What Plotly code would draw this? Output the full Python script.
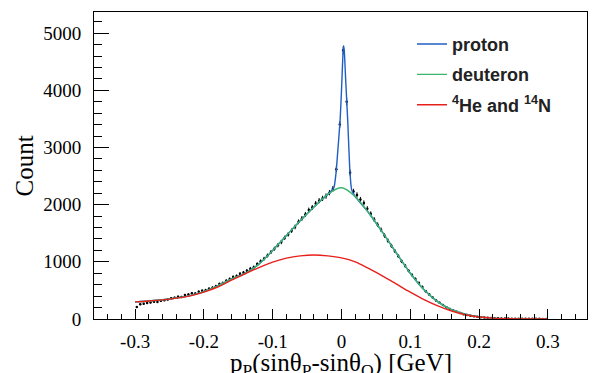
import numpy as np
import plotly.graph_objects as go

# ---------------- data ----------------
bin_width = 0.005
hist_lo = -0.3
counts = [
    212, 258, 268, 281, 290, 302, 297, 318, 330, 342,
    361, 372, 390, 385, 418, 430, 452, 446, 478, 495,
    505, 530, 548, 575, 612, 628, 670, 700, 735, 750,
    790, 812, 845, 880, 905, 960, 1010, 1055, 1110, 1170,
    1230, 1290, 1345, 1420, 1480, 1545, 1610, 1700, 1760, 1830,
    1905, 1950, 2020, 2070, 2110, 2150, 2210, 2280, 2620, 3400,
    4700, 3800, 2560, 2230, 2170, 2090, 2030, 1930, 1840, 1740,
    1650, 1560, 1460, 1370, 1280, 1190, 1100, 1010, 930, 845,
    770, 700, 630, 560, 485, 430, 375, 325, 285, 245,
    205, 175, 150, 125, 105, 85, 70, 58, 48, 38,
    30, 25, 20, 16, 14, 11, 9, 8, 7, 6,
    6, 5, 5, 4, 4, 3, 3, 3, 2, 2,
]
bin_centers = hist_lo + bin_width * (np.arange(len(counts)) + 0.5)
count_err = np.sqrt(np.array(counts, dtype=float))

curve_x = [-0.30, -0.28, -0.26, -0.24, -0.22, -0.20, -0.18, -0.16, -0.14, -0.12,
           -0.10, -0.08, -0.06, -0.04, -0.02, 0.00, 0.02, 0.04, 0.06, 0.08,
           0.10, 0.12, 0.14, 0.16, 0.18, 0.20, 0.22, 0.24, 0.26, 0.28, 0.30]
he_n_y = [300, 315, 335, 365, 405, 470, 560, 680, 790, 900,
          995, 1065, 1105, 1120, 1105, 1070, 1000, 880, 750, 610,
          470, 340, 230, 140, 75, 35, 15, 6, 2, 1, 0]
deuteron_y = [300, 315, 336, 368, 410, 480, 580, 700, 800, 960,
              1200, 1460, 1720, 1960, 2180, 2295, 2140, 1850, 1510, 1150,
              800, 510, 300, 165, 85, 38, 16, 6, 2, 1, 0]
peak_x = [-0.015, -0.011, -0.008, -0.005, -0.002, 0.000, 0.002, 0.003,
          0.004, 0.006, 0.009, 0.0124, 0.0148]
peak_y = [2240, 2300, 2550, 3000, 3480, 4000, 4600, 4780,
          4700, 4200, 3480, 2550, 2260]

# proton (total) curve: deuteron curve outside the peak + peak points
outside = [(x, y) for x, y in zip(curve_x, deuteron_y) if abs(x) > 0.019]
proton_pts = sorted(outside + list(zip(peak_x, peak_y)))
proton_x = [p[0] for p in proton_pts]
proton_y = [p[1] for p in proton_pts]

x_ticks = [-0.3, -0.2, -0.1, 0, 0.1, 0.2, 0.3]
x_labels = ["-0.3", "-0.2", "-0.1", "0", "0.1", "0.2", "0.3"]
y_ticks = [0, 1000, 2000, 3000, 4000, 5000]
y_labels = ["0", "1000", "2000", "3000", "4000", "5000"]

names = ["<b>proton</b>", "<b>deuteron</b>", "<b><sup>4</sup>He and <sup>14</sup>N</b>"]
colors = ["#1f5fc4", "#3cb46e", "#e8201c"]
x_title = "p<sub>P</sub>(sinθ<sub>P</sub>-sinθ<sub>O</sub>) [GeV]"
y_title = "Count"

# ---------------- figure ----------------
fig = go.Figure()
fig.add_trace(go.Scatter(
    x=bin_centers, y=counts, mode="markers",
    marker=dict(size=2.5, color="black"),
    error_y=dict(type="data", array=count_err, thickness=1, width=0, color="black"),
    showlegend=False,
))
fig.add_trace(go.Scatter(x=proton_x, y=proton_y, mode="lines", name=names[0],
                         line=dict(color=colors[0], width=1.4, shape="spline", smoothing=0.6),
                         legendgroup="a"))
fig.add_trace(go.Scatter(x=curve_x, y=deuteron_y, mode="lines", name=names[1],
                         line=dict(color=colors[1], width=1.4, shape="spline", smoothing=1.0),
                         legendgroup="b"))
fig.add_trace(go.Scatter(x=curve_x, y=he_n_y, mode="lines", name=names[2],
                         line=dict(color=colors[2], width=1.4, shape="spline", smoothing=1.0),
                         legendgroup="c"))

serif = "Liberation Serif"
fig.update_layout(
    width=598, height=373,
    margin=dict(l=94, r=11, t=12, b=54),
    paper_bgcolor="white", plot_bgcolor="white",
    font=dict(family=serif, color="black", size=19),
    showlegend=True,
    legend=dict(x=0.645, y=0.955, xanchor="left", yanchor="top",
                font=dict(family="Liberation Sans", size=18, color="#222"),
                bgcolor="rgba(0,0,0,0)", tracegroupgap=4, itemwidth=30),
    xaxis=dict(
        range=[-0.3597, 0.3568], tickmode="array",
        tickvals=x_ticks, ticktext=x_labels,
        ticks="inside", ticklen=10, tickcolor="black", tickwidth=1,
        minor=dict(ticks="inside", ticklen=5, dtick=0.02, tick0=0, tickcolor="black"),
        showline=True, linecolor="black", linewidth=1, mirror=True,
        showgrid=False, zeroline=False, automargin=False,
        tickfont=dict(family=serif, size=19, color="black"),
        ticklabelstandoff=5,
    ),
    yaxis=dict(
        range=[0, 5370], tickmode="array",
        tickvals=y_ticks, ticktext=y_labels,
        ticks="inside", ticklen=15, tickcolor="black", tickwidth=1,
        minor=dict(ticks="inside", ticklen=8, dtick=200, tick0=0, tickcolor="black"),
        showline=True, linecolor="black", linewidth=1, mirror=True,
        showgrid=False, zeroline=False, automargin=False,
        tickfont=dict(family=serif, size=19, color="black"),
        ticklabelstandoff=8,
    ),
    annotations=[
        dict(text=x_title, xref="paper", yref="paper", x=0.5, y=-0.147,
             xanchor="center", yanchor="middle", showarrow=False,
             font=dict(family=serif, size=25, color="black")),
        dict(text=y_title, xref="paper", yref="paper", x=-0.14, y=0.5,
             xanchor="center", yanchor="middle", showarrow=False, textangle=-90,
             font=dict(family=serif, size=25, color="black")),
    ],
)

fig.write_html("out.html")
